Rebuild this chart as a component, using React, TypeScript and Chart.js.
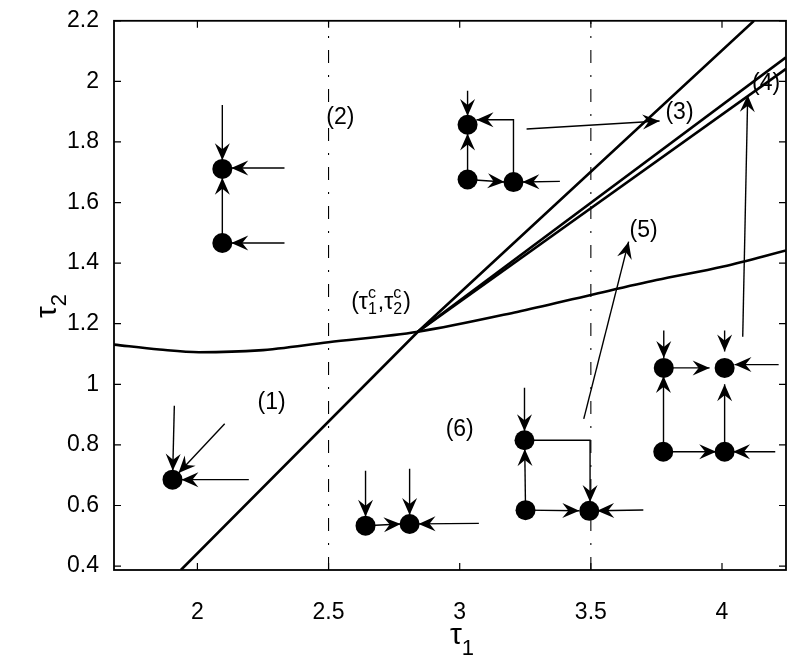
import React, { useEffect, useRef } from "react";
import { Chart, registerables } from "chart.js";

Chart.register(...registerables);

const xTickValues = [2, 2.5, 3, 3.5, 4];
const xTickLabels = ["2", "2.5", "3", "3.5", "4"];
const yTickValues = [0.4, 0.6, 0.8, 1, 1.2, 1.4, 1.6, 1.8, 2, 2.2];
const yTickLabels = ["0.4", "0.6", "0.8", "1", "1.2", "1.4", "1.6", "1.8", "2", "2.2"];
const xLimits = [1.682, 4.244];
const yLimits = [0.387, 2.2];

// bifurcation boundaries
const boundaryA = [[1.937, 0.387], [2.8405, 1.1736], [4.122, 2.2]];
const boundaryB = [[2.8405, 1.1736], [4.244, 2.0796]];
const boundaryC = [[2.8405, 1.1736], [4.244, 2.0415]];
const boundaryD = [
  [1.682, 1.131], [1.855, 1.115], [2.006, 1.106], [2.234, 1.112], [2.499, 1.139],
  [2.8405, 1.1736], [3.219, 1.239], [3.5, 1.295], [3.75, 1.344], [4.005, 1.389], [4.244, 1.442],
];
const dashDotX = [2.5, 3.5];

// equilibria (dots)
const equilibria = [
  [2.095, 1.711], [2.095, 1.4666],
  [3.03, 1.857], [3.03, 1.676], [3.205, 1.6675],
  [1.905, 0.6853],
  [2.641, 0.5333], [2.809, 0.5389],
  [3.247, 0.8155], [3.251, 0.5845], [3.494, 0.5822],
  [3.778, 1.0542], [4.01, 1.0542], [3.776, 0.7775], [4.01, 0.7775],
];

// arrows: polyline, head at last point
const arrowPaths = [
  [[2.095, 1.922], [2.095, 1.74]],
  [[2.332, 1.714], [2.129, 1.714]],
  [[2.332, 1.4666], [2.129, 1.4666]],
  [[2.095, 1.4666], [2.095, 1.682]],

  [[3.03, 1.969], [3.03, 1.886]],
  [[3.03, 1.676], [3.03, 1.828]],
  [[3.03, 1.676], [3.171, 1.668]],
  [[3.382, 1.67], [3.239, 1.668]],
  [[3.205, 1.6675], [3.205, 1.8735], [3.064, 1.8735]],
  [[3.255, 1.843], [3.762, 1.869]],

  [[1.912, 0.9295], [1.906, 0.7146]],
  [[2.104, 0.8696], [1.928, 0.707]],
  [[2.196, 0.6853], [1.939, 0.6853]],

  [[2.641, 0.7146], [2.641, 0.5626]],
  [[2.809, 0.7211], [2.809, 0.5682]],
  [[2.641, 0.5333], [2.775, 0.5387]],
  [[3.073, 0.5408], [2.843, 0.5392]],

  [[3.247, 0.989], [3.247, 0.8448]],
  [[3.251, 0.5845], [3.248, 0.7862]],
  [[3.247, 0.8155], [3.497, 0.8155], [3.497, 0.6115]],
  [[3.251, 0.5845], [3.456, 0.5825]],
  [[3.7, 0.585], [3.524, 0.5825]],
  [[3.473, 0.886], [3.644, 1.471]],

  [[3.778, 1.178], [3.778, 1.0867]],
  [[4.01, 1.178], [4.01, 1.1085]],
  [[3.778, 1.0542], [3.9528, 1.0542]],
  [[4.216, 1.065], [4.0476, 1.065]],
  [[3.776, 0.7775], [3.777, 1.0271]],
  [[4.01, 0.7775], [4.01, 1.0]],
  [[3.776, 0.7775], [3.978, 0.7775]],
  [[4.203, 0.7775], [4.042, 0.7775]],
  [[4.079, 1.157], [4.098, 1.955]],
];

const regionLabels = [
  { text: "(1)", x: 2.283, y: 0.94 },
  { text: "(2)", x: 2.545, y: 1.881 },
  { text: "(3)", x: 3.838, y: 1.897 },
  { text: "(4)", x: 4.168, y: 1.992 },
  { text: "(5)", x: 3.701, y: 1.507 },
  { text: "(6)", x: 3.0, y: 0.849 },
];
const criticalLabel = { x: 2.7, y: 1.276 };

const FONT = "'Liberation Sans', Arial, Helvetica, sans-serif";
const toXY = (p: number[][]) => p.map(([x, y]) => ({ x, y }));

function drawHead(ctx: CanvasRenderingContext2D, tx: number, ty: number, ux: number, uy: number) {
  const L = 17, W = 7.5, N = 6;
  const nx = -uy, ny = ux;
  ctx.beginPath();
  ctx.moveTo(tx, ty);
  ctx.lineTo(tx - ux * L + nx * W, ty - uy * L + ny * W);
  ctx.lineTo(tx - ux * (L - N), ty - uy * (L - N));
  ctx.lineTo(tx - ux * L - nx * W, ty - uy * L - ny * W);
  ctx.closePath();
  ctx.fill();
}

const decorPlugin = {
  id: "decor",
  afterDatasetsDraw(chart: any) {
    const ctx: CanvasRenderingContext2D = chart.ctx;
    const xs = chart.scales.x, ys = chart.scales.y;
    const { left, right, top, bottom } = chart.chartArea;
    ctx.save();
    ctx.fillStyle = "#000";
    ctx.strokeStyle = "#000";
    // arrow heads
    arrowPaths.forEach((p) => {
      const a = p[p.length - 2], b = p[p.length - 1];
      const ax = xs.getPixelForValue(a[0]), ay = ys.getPixelForValue(a[1]);
      const bx = xs.getPixelForValue(b[0]), by = ys.getPixelForValue(b[1]);
      const len = Math.hypot(bx - ax, by - ay) || 1;
      drawHead(ctx, bx, by, (bx - ax) / len, (by - ay) / len);
    });
    // frame
    ctx.lineWidth = 1.8;
    ctx.strokeRect(left, top, right - left, bottom - top);
    ctx.lineWidth = 1.2;
    ctx.beginPath();
    xTickValues.forEach((v) => {
      const px = xs.getPixelForValue(v);
      ctx.moveTo(px, bottom); ctx.lineTo(px, bottom - 7);
      ctx.moveTo(px, top); ctx.lineTo(px, top + 7);
    });
    yTickValues.forEach((v) => {
      const py = ys.getPixelForValue(v);
      ctx.moveTo(left, py); ctx.lineTo(left + 7, py);
      ctx.moveTo(right, py); ctx.lineTo(right - 7, py);
    });
    ctx.stroke();
    // region labels
    ctx.font = `23px ${FONT}`;
    ctx.textAlign = "center";
    ctx.textBaseline = "middle";
    regionLabels.forEach((l) => {
      ctx.fillText(l.text, xs.getPixelForValue(l.x), ys.getPixelForValue(l.y));
    });
    // critical point label (tau1^c, tau2^c)
    const big = `23px ${FONT}`, small = `16px ${FONT}`;
    const parts: any[] = [
      { t: "(" }, { t: "\u03c4" }, { sup: "c", sub: "1" }, { t: "," },
      { t: "\u03c4" }, { sup: "c", sub: "2" }, { t: ")" },
    ];
    let total = 0;
    parts.forEach((pt) => {
      if (pt.t) { ctx.font = big; pt.w = ctx.measureText(pt.t).width; }
      else { ctx.font = small; pt.w = Math.max(ctx.measureText(pt.sup).width, ctx.measureText(pt.sub).width) + 1; }
      total += pt.w;
    });
    let cx = xs.getPixelForValue(criticalLabel.x) - total / 2;
    const cy = ys.getPixelForValue(criticalLabel.y) + 8;
    ctx.textAlign = "left";
    ctx.textBaseline = "alphabetic";
    parts.forEach((pt) => {
      if (pt.t) { ctx.font = big; ctx.fillText(pt.t, cx, cy); }
      else {
        ctx.font = small;
        ctx.fillText(pt.sup, cx, cy - 11);
        ctx.fillText(pt.sub, cx, cy + 5);
      }
      cx += pt.w;
    });
    // axis titles
    const mid = (left + right) / 2;
    ctx.font = `30px ${FONT}`;
    const tw = ctx.measureText("\u03c4").width;
    ctx.fillText("\u03c4", mid, 644);
    ctx.font = `22px ${FONT}`;
    ctx.fillText("1", mid + tw, 655);
    ctx.translate(56, 318);
    ctx.rotate(-Math.PI / 2);
    ctx.font = `30px ${FONT}`;
    ctx.fillText("\u03c4", 0, 0);
    ctx.font = `22px ${FONT}`;
    ctx.fillText("2", tw, 10);
    ctx.restore();
  },
};

export default function App() {
  const ref = useRef<HTMLCanvasElement | null>(null);
  useEffect(() => {
    document.body.style.margin = "0";
    const canvas = ref.current;
    if (!canvas) return;
    const datasets: any[] = [];
    datasets.push({
      data: toXY(equilibria), showLine: false, pointRadius: 10,
      pointBackgroundColor: "#000", pointBorderWidth: 0, pointHoverRadius: 10,
    });
    [boundaryA, boundaryB, boundaryC].forEach((p) =>
      datasets.push({ data: toXY(p), showLine: true, borderColor: "#000", borderWidth: 2.6, pointRadius: 0, tension: 0 })
    );
    datasets.push({
      data: toXY(boundaryD), showLine: true, borderColor: "#000", borderWidth: 2.6,
      pointRadius: 0, cubicInterpolationMode: "monotone",
    });
    dashDotX.forEach((x) =>
      datasets.push({
        data: [{ x, y: yLimits[0] }, { x, y: yLimits[1] }], showLine: true, borderColor: "#000",
        borderWidth: 1.1, borderDash: [13, 12, 2, 12], pointRadius: 0,
      })
    );
    arrowPaths.forEach((p) =>
      datasets.push({ data: toXY(p), showLine: true, borderColor: "#000", borderWidth: 1.4, pointRadius: 0, tension: 0 })
    );
    const chart = new Chart(canvas, {
      type: "scatter",
      data: { datasets },
      options: {
        animation: false,
        responsive: false,
        devicePixelRatio: 1,
        events: [],
        layout: { padding: { top: 13, right: 6, left: 0, bottom: 0 } },
        plugins: { legend: { display: false }, tooltip: { enabled: false } },
        scales: {
          x: {
            type: "linear", min: xLimits[0], max: xLimits[1],
            grid: { display: false }, border: { display: false },
            afterBuildTicks: (s: any) => { s.ticks = xTickValues.map((v) => ({ value: v })); },
            afterFit: (s: any) => { s.height = 90; },
            ticks: {
              callback: (v: any) => xTickLabels[xTickValues.indexOf(v)] ?? String(v),
              font: { family: FONT, size: 23 }, color: "#000", padding: 21, maxRotation: 0, autoSkip: false,
            },
          },
          y: {
            type: "linear", min: yLimits[0], max: yLimits[1],
            grid: { display: false }, border: { display: false },
            afterBuildTicks: (s: any) => { s.ticks = yTickValues.map((v) => ({ value: v })); },
            afterFit: (s: any) => { s.width = 114; },
            ticks: {
              callback: (v: any) => yTickLabels[yTickValues.indexOf(v)] ?? String(v),
              font: { family: FONT, size: 23 }, color: "#000", padding: 7, autoSkip: false,
            },
          },
        },
      },
      plugins: [decorPlugin],
    } as any);
    return () => chart.destroy();
  }, []);
  return <canvas ref={ref} width={796} height={660} style={{ display: "block" }} />;
}
